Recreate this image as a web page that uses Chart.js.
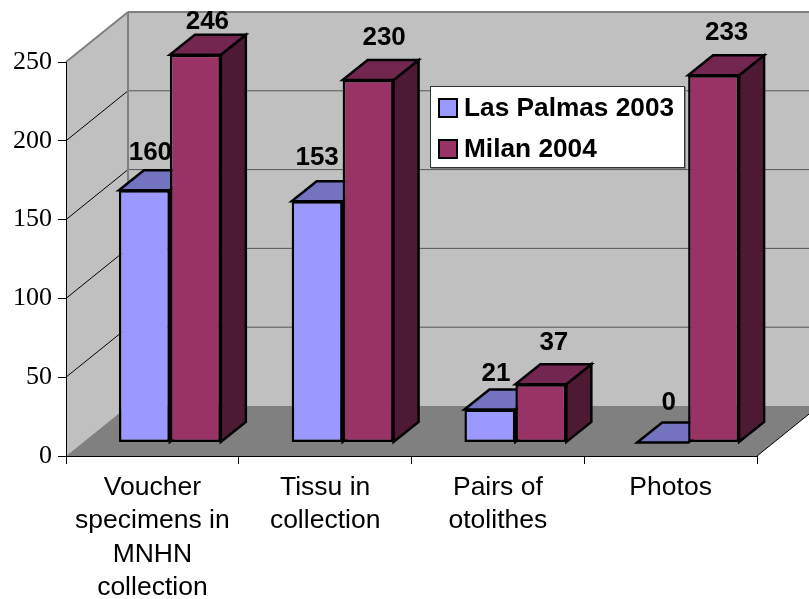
<!DOCTYPE html>
<html>
<head>
<meta charset="utf-8">
<style>
  html, body { margin: 0; padding: 0; background: #fff; }
  #wrap { width: 809px; height: 599px; overflow: hidden; }
</style>
<script src="https://cdn.jsdelivr.net/npm/chart.js@4/dist/chart.umd.min.js"></script>
</head>
<body>
<div id="wrap"><canvas id="chart" width="809" height="599"></canvas></div>
<script>
// Chart data
const categories = [
    ['Voucher', 'specimens in', 'MNHN', 'collection'],
    ['Tissu in', 'collection'],
    ['Pairs of', 'otolithes'],
    ['Photos']
];
const lasPalmas2003 = [160, 153, 21, 0];
const milan2004 = [246, 230, 37, 233];
const yTicks = [0, 50, 100, 150, 200, 250];

// Depth of the box and how far the bars sit inside it
const boxDx = 62, boxDy = -50;
const barShiftX = 17.5, barShiftY = -13.5;
const barDepthX = 25, barDepthY = -20;
const barLine = 2.5;

const faceColors = [
    { top: '#7373BF', side: '#4D4D80' },
    { top: '#732650', side: '#4D1933' }
];
// Value label offsets from the top of each bar [x, y]
const labelNudge = [
    [[6, -38], [0, -44], [6, -36], [6, -40]],
    [[12, -43], [16, -42], [13, -41], [13, -42]]
];

function polygon(ctx, points, fill, stroke, lineWidth) {
    ctx.beginPath();
    points.forEach((p, i) => i ? ctx.lineTo(p[0], p[1]) : ctx.moveTo(p[0], p[1]));
    ctx.closePath();
    if (fill) {
        ctx.fillStyle = fill;
        ctx.fill();
    }
    if (stroke) {
        ctx.strokeStyle = stroke;
        ctx.lineWidth = lineWidth;
        ctx.lineJoin = 'miter';
        ctx.stroke();
    }
}

function line(ctx, x1, y1, x2, y2, color, width) {
    ctx.beginPath();
    ctx.moveTo(x1, y1);
    ctx.lineTo(x2, y2);
    ctx.strokeStyle = color;
    ctx.lineWidth = width;
    ctx.stroke();
}

// Walls, floor and gridlines of the 3D box
const box3d = {
    id: 'box3d',
    beforeDraw(chart) {
        const ctx = chart.ctx;
        const { left, right, top, bottom } = chart.chartArea;
        const y = chart.scales.y;
        const farX = chart.width + 20;
        ctx.save();
        polygon(ctx, [[left + boxDx, top + boxDy], [farX, top + boxDy], [farX, bottom + boxDy], [left + boxDx, bottom + boxDy]], '#C0C0C0');
        polygon(ctx, [[left, top], [left + boxDx, top + boxDy], [left + boxDx, bottom + boxDy], [left, bottom]], '#C0C0C0');
        polygon(ctx, [[left, bottom], [right, bottom], [right + boxDx, bottom + boxDy], [left + boxDx, bottom + boxDy]], '#808080');
        y.ticks.forEach(tick => {
            if (tick.value === 0 || tick.value === y.max) return;
            const py = y.getPixelForValue(tick.value);
            line(ctx, left, py, left + boxDx, py + boxDy, '#000', 1);
            line(ctx, left + boxDx, py + boxDy, farX, py + boxDy, '#555', 1);
        });
        line(ctx, left, top, left + boxDx, top + boxDy, '#808080', 2);
        line(ctx, left + boxDx, top + boxDy, farX, top + boxDy, '#808080', 2);
        line(ctx, left + boxDx, top + boxDy, left + boxDx, bottom + boxDy, '#808080', 2);
        line(ctx, right, bottom, right + boxDx, bottom + boxDy, '#000', 1);
        ctx.restore();
    }
};

// Bars in dataset order: side and top faces here, front face by the library
const bars3d = {
    id: 'bars3d',
    beforeDatasetsDraw(chart) {
        const ctx = chart.ctx;
        chart.data.datasets.forEach((ds, i) => {
            const meta = chart.getDatasetMeta(i);
            const colors = faceColors[i];
            ctx.save();
            ctx.translate(barShiftX, barShiftY);
            meta.data.forEach(bar => {
                const l = bar.x - bar.width / 2, r = bar.x + bar.width / 2;
                polygon(ctx, [[r, bar.y], [r + barDepthX, bar.y + barDepthY], [r + barDepthX, bar.base + barDepthY], [r, bar.base]], colors.side, '#000', barLine);
                polygon(ctx, [[l, bar.y], [r, bar.y], [r + barDepthX, bar.y + barDepthY], [l + barDepthX, bar.y + barDepthY]], colors.top, '#000', barLine);
            });
            meta.controller.draw();
            ctx.restore();
        });

        ctx.save();
        ctx.font = 'bold 26px "Liberation Sans"';
        ctx.fillStyle = '#000';
        ctx.textAlign = 'center';
        ctx.textBaseline = 'middle';
        chart.data.datasets.forEach((ds, i) => {
            chart.getDatasetMeta(i).data.forEach((bar, j) => {
                const lx = bar.x + barShiftX + labelNudge[i][j][0];
                const ly = Math.max(bar.y + barShiftY + labelNudge[i][j][1], 22);
                ctx.fillText(ds.data[j], lx, ly);
            });
        });
        ctx.restore();
        return false;
    }
};

// Legend box over the plot
const legendBox = {
    id: 'legendBox',
    afterDraw(chart) {
        const ctx = chart.ctx;
        ctx.save();
        ctx.fillStyle = '#808080';
        ctx.fillRect(431, 87, 255, 82);
        ctx.fillStyle = '#fff';
        ctx.fillRect(430, 86, 255, 82);
        ctx.strokeStyle = '#333';
        ctx.lineWidth = 1;
        ctx.strokeRect(430.5, 86.5, 254, 81);
        ctx.font = 'bold 26.25px "Liberation Sans"';
        ctx.textAlign = 'left';
        ctx.textBaseline = 'middle';
        chart.data.datasets.forEach((ds, i) => {
            const cy = 108 + i * 41;
            ctx.fillStyle = ds.backgroundColor;
            ctx.fillRect(439, cy - 9, 18, 18);
            ctx.strokeStyle = '#000';
            ctx.lineWidth = 2;
            ctx.strokeRect(439, cy - 9, 18, 18);
            ctx.fillStyle = '#000';
            ctx.fillText(ds.label, 464, cy + 1);
        });
        ctx.restore();
    }
};

const barStyle = { borderColor: '#000', borderWidth: barLine, borderSkipped: false, clip: false, categoryPercentage: 0.59, barPercentage: 1 };

new Chart(document.getElementById('chart'), {
    type: 'bar',
    data: {
        labels: categories,
        datasets: [
            { label: 'Las Palmas 2003', data: lasPalmas2003, backgroundColor: '#9999FF', ...barStyle },
            { label: 'Milan 2004', data: milan2004, backgroundColor: '#993366', ...barStyle }
        ]
    },
    options: {
        responsive: false,
        animation: false,
        layout: { padding: { top: 62, right: 52, bottom: 0, left: 0 } },
        plugins: {
            legend: { display: false },
            tooltip: { enabled: false }
        },
        scales: {
            x: {
                afterFit: scale => { scale.height = 143; },
                border: { display: true, color: '#000', width: 1 },
                grid: { offset: true, drawOnChartArea: false, color: '#000', tickLength: 8 },
                ticks: {
                    color: '#000',
                    autoSkip: false,
                    maxRotation: 0,
                    padding: 7,
                    font: { family: '"Liberation Sans"', size: 26.5, lineHeight: 1.26 }
                }
            },
            y: {
                min: 0,
                max: 250,
                afterFit: scale => { scale.width = 66; },
                afterBuildTicks: scale => { scale.ticks = yTicks.map(value => ({ value })); },
                border: { display: true, color: '#000', width: 1 },
                grid: { drawOnChartArea: false, color: '#000', tickLength: 8 },
                ticks: {
                    color: '#000',
                    padding: 6,
                    font: { family: '"Liberation Serif"', size: 26 }
                }
            }
        }
    },
    plugins: [box3d, bars3d, legendBox]
});
</script>
</body>
</html>
